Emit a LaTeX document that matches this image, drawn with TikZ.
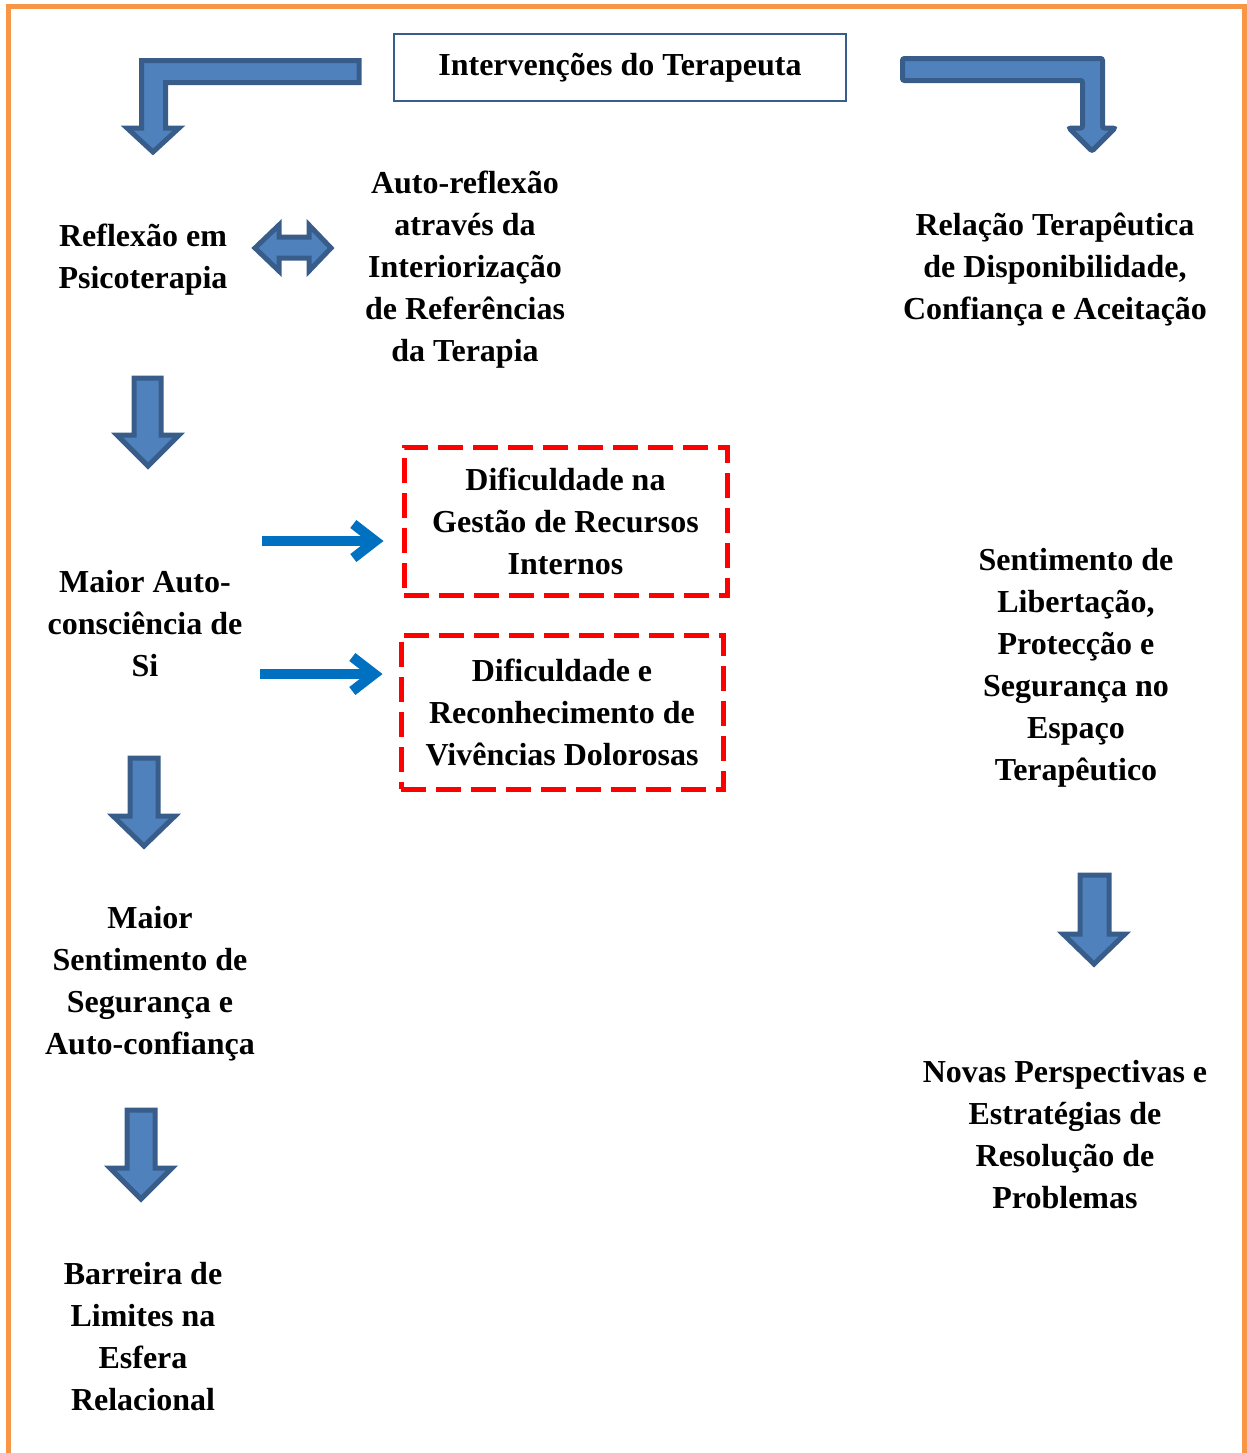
\documentclass[tikz,border=0pt]{standalone}
\usepackage{fontspec}
\setmainfont{Liberation Serif}
\usetikzlibrary{arrows.meta}
\definecolor{arrowfill}{HTML}{4F81BD}
\definecolor{arrowline}{HTML}{385D8A}
\definecolor{linkblue}{HTML}{0070C0}
\definecolor{frameorange}{HTML}{F79646}
\begin{document}
\begin{tikzpicture}[x=0.5pt,y=-0.5pt,
    lbl/.style={font=\bfseries\fontsize{16}{21}\selectfont, align=center, inner sep=0pt},
    blockarrow/.style={fill=arrowfill, draw=arrowline, line width=2.5pt, line join=miter},
    dashbox/.style={lbl, draw=red, dash pattern=on 12.5pt off 5pt, line width=2.5pt},
    thinarrow/.style={draw=linkblue, line width=5pt, -{Straight Barb[length=11pt,width=17pt]}}]
        \useasboundingbox (0,0) rectangle (1247,1453);
        \draw[frameorange, line width=2.5pt] (8.5,1453) -- (8.5,6.5) -- (1244,6.5) -- (1244,1453);
        \node[lbl, draw=arrowline, line width=0.8pt, minimum width=226pt, minimum height=33.5pt] (interv) at (620,67.5) {Intervenções do Terapeuta};
        \draw[blockarrow] (359,60.5) -- (141.5,60.5) -- (141.5,128) -- (127,128) -- (153,152) -- (179,128) -- (165.5,128) -- (165.5,82.5) -- (359,82.5) -- cycle;
        \draw[blockarrow, rounded corners=1pt] (902.5,58.5) -- (1102.5,58.5) -- (1102.5,128) -- (1115,128) -- (1092,151) -- (1069,128) -- (1082.5,128) -- (1082.5,80.5) -- (902.5,80.5) -- cycle;
        % left column
        \node[lbl] (reflexao) at (143,260) {Reflexão em\\Psicoterapia};
        \node[lbl] (autorefl) at (465,270) {Auto-reflexão\\através da\\Interiorização\\de Referências\\da Terapia};
        \draw[blockarrow] (255,248) -- (279,225) -- (279,237) -- (309,237) -- (309,225) -- (331,248) -- (309,271) -- (309,258) -- (279,258) -- (279,271) -- cycle;
        \draw[blockarrow] (134,378) -- (161,378) -- (161,435) -- (179,435) -- (148,466) -- (117,435) -- (134,435) -- cycle;
        \node[lbl] (autocons) at (145,624) {Maior Auto-\\consciência de\\Si};
        \node[dashbox, minimum width=161.5pt, minimum height=74pt] (gestao) at (565.5,521) {Dificuldade na\\Gestão de Recursos\\Internos};
        \node[dashbox, minimum width=161pt, minimum height=77pt] (vivencias) at (562,712) {Dificuldade e\\Reconhecimento de\\Vivências Dolorosas};
        \coordinate (tail1) at (262,541);
        \coordinate (tail2) at (260,674);
        \draw[thinarrow, shorten >=9pt] (tail1) -- (tail1 -| gestao.west);
        \draw[thinarrow, shorten >=8pt] (tail2) -- (tail2 -| vivencias.west);
        \draw[blockarrow] (130,758) -- (158,758) -- (158,816) -- (175,816) -- (144,846) -- (113,816) -- (130,816) -- cycle;
        \node[lbl] (seguranca) at (150,984) {Maior\\Sentimento de\\Segurança e\\Auto-confiança};
        \draw[blockarrow] (127,1110) -- (155,1110) -- (155,1168) -- (172,1168) -- (141,1199) -- (110,1168) -- (127,1168) -- cycle;
        \node[lbl] (barreira) at (143,1337) {Barreira de\\Limites na\\Esfera\\Relacional};
        % right column
        \node[lbl] (relacao) at (1055,270) {Relação Terapêutica\\de Disponibilidade,\\Confiança e Aceitação};
        \node[lbl] (libert) at (1076,668) {Sentimento de\\Libertação,\\Protecção e\\Segurança no\\Espaço\\Terapêutico};
        \draw[blockarrow] (1080,875) -- (1109,875) -- (1109,934) -- (1125,934) -- (1094,964) -- (1063,934) -- (1080,934) -- cycle;
        \node[lbl] (novas) at (1065,1135) {Novas Perspectivas e\\Estratégias de\\Resolução de\\Problemas};
\end{tikzpicture}
\end{document}
